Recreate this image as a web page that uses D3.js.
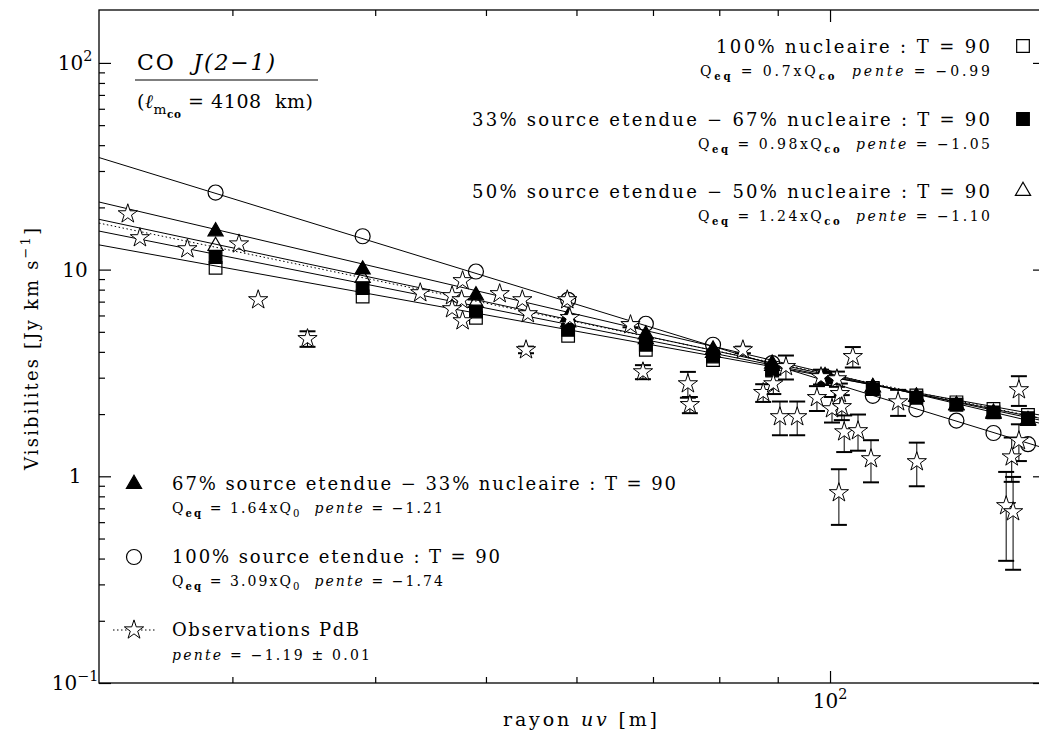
<!DOCTYPE html>
<html><head><meta charset="utf-8">
<script src="https://cdn.jsdelivr.net/npm/d3@7"></script>
<style>
html,body{margin:0;padding:0;background:#fff;}
svg text{font-family:"DejaVu Serif",serif;fill:#000;white-space:pre;}
</style></head>
<body><svg id="c" width="1039" height="734"></svg>
<script>
// ---------------- data ----------------
const modelX = [29, 39, 49, 59, 69, 79, 89, 99, 109, 119, 129, 139, 149];
const openSquare   = [10.2, 7.41, 5.84, 4.78, 4.09, 3.65, 3.25, 2.95, 2.68, 2.46, 2.28, 2.12, 1.98];
const filledSquare = [11.5, 8.14, 6.27, 5.11, 4.33, 3.80, 3.27, 3.00, 2.64, 2.40, 2.22, 2.04, 1.91];
const openTriangle = [13.0, 9.10, 6.90, 5.55, 4.60, 3.95, 3.42, 3.02, 2.69, 2.43, 2.21, 2.03, 1.87];
const filledTriangle = [15.3, 10.0, 7.50, 5.90, 4.85, 4.10, 3.50, 3.05, 2.70, 2.42, 2.20, 2.00, 1.85];
const openCircle   = [23.6, 14.5, 9.79, 7.14, 5.47, 4.33, 3.53, 3.04, 2.45, 2.11, 1.86, 1.62, 1.43];

// power-law fit lines: value at 100 m and drawn slope
const fitNames  = ["openSquare", "filledSquare", "openTriangle", "filledTriangle", "openCircle", "observations"];
const fitAt100  = [3.02, 3.04, 3.08, 3.13, 2.85, 3.11];
const fitSlope  = [-1.00, -1.10, -1.18, -1.30, -1.70, -1.145];

// observations (PdB)
const obsX = [24.3, 24.9, 27.4, 30.4, 31.6, 34.9, 43.8, 47.7, 46.7, 47.6, 46.7, 47.7, 51.4, 53.8, 54.4, 54.2,
              58.9, 59.2, 66.9, 68.6, 75.1, 75.4, 83.9, 87.4, 89.2, 91.5, 90.4, 93.6, 98.2, 97.4, 101.4, 102.0,
              100.4, 102.4, 104.7, 102.9, 105.8, 101.8, 108.6, 114.7, 119.1, 146.3, 146.3, 144.2, 142.6, 144.6];
const obsY = [18.6, 14.25, 12.6, 13.3, 7.14, 4.63, 7.72, 8.83, 7.47, 7.14, 6.46, 5.65, 7.64, 7.14, 6.11, 4.09,
              7.14, 5.85, 5.41, 3.20, 2.80, 2.22, 4.09, 2.54, 2.80, 3.39, 1.94, 1.94, 3.03, 2.40, 2.96, 2.51,
              2.12, 2.17, 3.79, 1.64, 1.66, 0.832, 1.215, 2.29, 1.175, 2.62, 1.485, 1.24, 0.72, 0.673];
const obsErr = [0, 0, 0, 0, 0, 0.4, 0, 0, 0, 0, 0, 0, 0, 0, 0, 0.15,
                0, 0, 0.15, 0.25, 0.4, 0.2, 0.15, 0.25, 0.3, 0.45, 0.36, 0.36, 0.25, 0.33, 0.25, 0.3,
                0.3, 0.3, 0.43, 0.33, 0.33, 0.25, 0.28, 0.33, 0.28, 0.43, 0.3, 0.3, 0.33, 0.32];

const xMinorTicks = [30, 40, 50, 60, 70, 80, 90];
const xMajorTicks = [100];
const yMajorTicks = [0.1, 1, 10, 100];
const yMinorTicks = [0.2,0.3,0.4,0.5,0.6,0.7,0.8,0.9, 2,3,4,5,6,7,8,9, 20,30,40,50,60,70,80,90];
const xDomain = [22.93, 154.2];
const yDomain = [0.1, 180.3];

// ---------------- chart ----------------
const svg = d3.select("#c");
const L = 99, R = 1045, T = 10, B = 683;
const x = d3.scaleLog().domain(xDomain).range([L, R]);
const y = d3.scaleLog().domain(yDomain).range([B, T]);

svg.append("defs").append("clipPath").attr("id","plot")
  .append("rect").attr("x",L).attr("y",T).attr("width",R-L).attr("height",B-T);

// axes ticks (inward on all four sides)
function tickAxis(axisFn, scale, vals, size, tr){
  const g = svg.append("g").attr("transform", tr)
    .call(axisFn(scale).tickValues(vals).tickSize(size).tickFormat(""));
  g.select(".domain").remove();
  g.selectAll("line").attr("stroke","#000").attr("stroke-width",1.2);
}
tickAxis(d3.axisBottom, x, xMinorTicks, -6, `translate(0,${B})`);
tickAxis(d3.axisBottom, x, xMajorTicks, -12, `translate(0,${B})`);
tickAxis(d3.axisTop, x, xMinorTicks, -6, `translate(0,${T})`);
tickAxis(d3.axisTop, x, xMajorTicks, -12, `translate(0,${T})`);
tickAxis(d3.axisLeft, y, yMinorTicks, -6, `translate(${L},0)`);
tickAxis(d3.axisLeft, y, yMajorTicks, -12, `translate(${L},0)`);
tickAxis(d3.axisRight, y, yMinorTicks, -6, `translate(${R},0)`);
tickAxis(d3.axisRight, y, yMajorTicks, -12, `translate(${R},0)`);

svg.append("rect").attr("x",L).attr("y",T).attr("width",R-L).attr("height",B-T)
  .attr("fill","none").attr("stroke","#000").attr("stroke-width",1.3);

// rich text helper
function rich(sel, px, py, parts, size, opt={}){
  const t = sel.append("text").attr("x",px).attr("y",py).attr("font-size",size)
    .attr("text-anchor", opt.anchor || "start");
  if (opt.transform) t.attr("transform", opt.transform);
  let shift = 0;
  parts.forEach(p=>{
    const s = typeof p === "string" ? {t:p} : p;
    const ts = t.append("tspan").text(s.t);
    let target = 0, fs = size;
    if (s.sub) { target = size*0.32; fs = size*0.72; }
    if (s.sup) { target = -size*0.45; fs = size*0.72; }
    if (s.subsub) { target = size*0.55; fs = size*0.55; }
    if (target !== shift) { ts.attr("dy", target - shift); shift = target; }
    if (fs !== size) ts.attr("font-size", fs);
    if (s.i) ts.attr("font-style","italic");
    if (s.b) ts.attr("font-weight","bold");
  });
  if (opt.len) t.attr("textLength", opt.len).attr("lengthAdjust","spacing");
  return t;
}

// tick labels
rich(svg, 75, y(100)+7, ["10", {t:"2", sup:true}], 20, {anchor:"middle"});
rich(svg, 75, y(10)+7, ["10"], 20, {anchor:"middle"});
rich(svg, 75, y(1)+7, ["1"], 20, {anchor:"middle"});
rich(svg, 75, y(0.1)+7, ["10", {t:"−1", sup:true}], 20, {anchor:"middle"});
rich(svg, x(100), 708, ["10", {t:"2", sup:true}], 20, {anchor:"middle"});

// axis titles
rich(svg, 503, 726, ["rayon ", {t:"uv", i:true}, " [m]"], 19, {len:154});
rich(svg, -470, 38, ["Visibilites [Jy km s", {t:"−1", sup:true}, "]"], 18,
     {len:242, transform:"rotate(-90)"});

// fit lines
const plot = svg.append("g").attr("clip-path","url(#plot)");
const lineGen = d3.line().x(d=>x(d[0])).y(d=>y(d[1]));
fitNames.forEach((n,i)=>{
  const pts = xDomain.map(v=>[v, fitAt100[i]*Math.pow(v/100, fitSlope[i])]);
  plot.append("path").attr("d", lineGen(pts)).attr("fill","none")
    .attr("stroke","#000").attr("stroke-width",1)
    .attr("stroke-dasharray", n==="observations" ? "1.5,2.5" : null);
});

// markers
const sym = (type,size)=>d3.symbol().type(type).size(size)();
const markerDefs = [
  {vals: openCircle,    type: d3.symbolCircle,   size: 177, fill:"none"},
  {vals: openSquare,    type: d3.symbolSquare,   size: 160, fill:"none"},
  {vals: filledSquare,  type: d3.symbolSquare,   size: 160, fill:"#000"},
  {vals: openTriangle,  type: d3.symbolTriangle, size: 100, fill:"none"},
  {vals: filledTriangle,type: d3.symbolTriangle, size: 100, fill:"#000"}
];
markerDefs.forEach(m=>{
  plot.selectAll(null).data(modelX.map((v,i)=>[v,m.vals[i]])).join("path")
    .attr("d", sym(m.type,m.size))
    .attr("transform", d=>`translate(${x(d[0])},${y(d[1])})`)
    .attr("fill", m.fill).attr("stroke","#000").attr("stroke-width",1.2);
});

// observations with error bars
const obs = obsX.map((v,i)=>({x:v, y:obsY[i], e:obsErr[i]}));
const eb = plot.append("g").attr("stroke","#000");
obs.filter(d=>d.e>0).forEach(d=>{
  const cx = x(d.x), y0 = y(d.y - d.e), y1 = y(d.y + d.e);
  eb.append("line").attr("x1",cx).attr("x2",cx).attr("y1",y0).attr("y2",y1).attr("stroke-width",1);
  [y0,y1].forEach(yy=> eb.append("line").attr("x1",cx-8).attr("x2",cx+8).attr("y1",yy).attr("y2",yy).attr("stroke-width",2));
});
plot.selectAll(null).data(obs).join("path")
  .attr("d", sym(d3.symbolStar, 115))
  .attr("transform", d=>`translate(${x(d.x)},${y(d.y)})`)
  .attr("fill","#fff").attr("stroke","#000").attr("stroke-width",1);

// title block
rich(svg, 137, 70, ["CO  ", {t:"J(2−1)", i:true}], 22, {len:138});
svg.append("line").attr("x1",135).attr("x2",318).attr("y1",80).attr("y2",80).attr("stroke","#000").attr("stroke-width",1.2);
rich(svg, 137, 108, ["(", {t:"ℓ", i:true}, {t:"m", sub:true}, {t:"co", subsub:true, b:true}, {t:" = 4108  km)"}], 19, {len:176});

// legends
function legendSym(cx, cy, type, size, fill){
  svg.append("path").attr("d", sym(type,size)).attr("transform",`translate(${cx},${cy})`)
    .attr("fill",fill).attr("stroke","#000").attr("stroke-width",1.2);
}
const Q = (coef, sub) => [{t:"Q"}, {t:"eq", sub:true, b:true}, {t:" = "+coef+"xQ"}, {t:sub, sub:true, b:sub!=="0"}];

// top-right legend (right aligned at 990)
rich(svg, 716, 53, ["100% nucleaire : T = 90"], 18, {len:274});
rich(svg, 700, 76, [...Q("0.7","co"), {t:"  "}, {t:"pente", i:true}, " = −0.99"], 14, {len:290});
legendSym(1023, 46, d3.symbolSquare, 160, "none");

rich(svg, 472, 126, ["33% source etendue − 67% nucleaire : T = 90"], 18, {len:518});
rich(svg, 698, 149, [...Q("0.98","co"), {t:"  "}, {t:"pente", i:true}, " = −1.05"], 14, {len:292});
legendSym(1023, 119, d3.symbolSquare, 160, "#000");

rich(svg, 472, 198, ["50% source etendue − 50% nucleaire : T = 90"], 18, {len:518});
rich(svg, 698, 221, [...Q("1.24","co"), {t:"  "}, {t:"pente", i:true}, " = −1.10"], 14, {len:292});
legendSym(1023, 191, d3.symbolTriangle, 100, "none");

// bottom-left legend
legendSym(134, 484, d3.symbolTriangle, 100, "#000");
rich(svg, 172, 490, ["67% source etendue − 33% nucleaire : T = 90"], 18, {len:504});
rich(svg, 172, 513, [...Q("1.64","0"), {t:"  "}, {t:"pente", i:true}, " = −1.21"], 14, {len:271});

legendSym(134, 557, d3.symbolCircle, 177, "none");
rich(svg, 172, 563, ["100% source etendue : T = 90"], 18, {len:328});
rich(svg, 172, 586, [...Q("3.09","0"), {t:"  "}, {t:"pente", i:true}, " = −1.74"], 14, {len:271});

svg.append("line").attr("x1",113).attr("x2",156).attr("y1",630).attr("y2",630)
  .attr("stroke","#000").attr("stroke-width",1).attr("stroke-dasharray","1.5,2.5");
svg.append("path").attr("d", sym(d3.symbolStar,115)).attr("transform","translate(134,630)")
  .attr("fill","#fff").attr("stroke","#000").attr("stroke-width",1);
rich(svg, 172, 636, ["Observations PdB"], 18, {len:187});
rich(svg, 172, 660, [{t:"pente", i:true}, " = −1.19 ± 0.01"], 14, {len:198});
</script></body></html>
